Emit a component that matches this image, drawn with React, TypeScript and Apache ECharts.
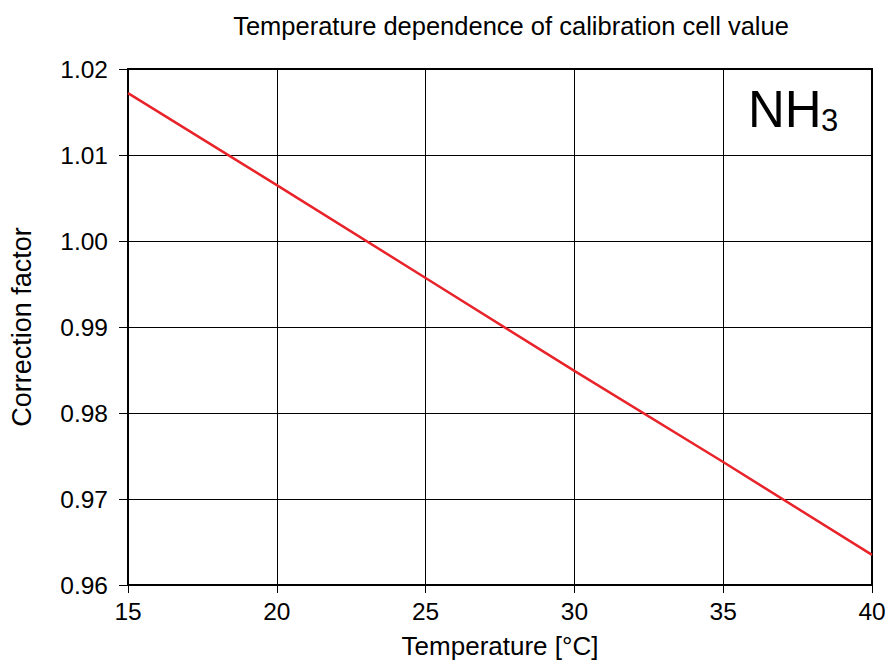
import React, { useEffect, useRef } from "react";
import * as echarts from "echarts";

const temperatures = [15, 20, 25, 30, 35, 40];
const correctionFactor = [1.0172, 1.0065, 0.9957, 0.9849, 0.9743, 0.9635];
const titleText = "Temperature dependence of calibration cell value";
const xName = "Temperature [°C]";
const yName = "Correction factor";

export default function App() {
  const ref = useRef<HTMLDivElement>(null);
  useEffect(() => {
    if (!ref.current) return;
    const chart = echarts.init(ref.current, null, { renderer: "svg" });
    const font = "Liberation Sans, Arial, sans-serif";
    chart.setOption({
      animation: false,
      backgroundColor: "#fff",
      textStyle: { fontFamily: font },
      title: {
        text: titleText,
        left: 506,
        textAlign: "center",
        top: 8,
        textStyle: { fontFamily: font, fontSize: 25.5, fontWeight: "normal", color: "#000" },
      },
      grid: {
        left: 128,
        right: 21,
        top: 69,
        bottom: 79,
        show: true,
        borderColor: "#000",
        borderWidth: 2,
      },
      xAxis: {
        type: "value",
        min: 15,
        max: 40,
        interval: 5,
        name: xName,
        nameLocation: "middle",
        nameGap: 48,
        nameTextStyle: { fontFamily: font, fontSize: 26, color: "#000" },
        axisLine: { show: true, lineStyle: { color: "#000", width: 2 } },
        axisTick: { show: true, length: 8, lineStyle: { color: "#000", width: 1 } },
        axisLabel: { fontFamily: font, fontSize: 24.5, color: "#000", margin: 14 },
        splitLine: { show: true, lineStyle: { color: "#000", width: 1 } },
      },
      yAxis: {
        type: "value",
        min: 0.96,
        max: 1.02,
        interval: 0.01,
        name: yName,
        nameLocation: "middle",
        nameGap: 93,
        nameTextStyle: { fontFamily: font, fontSize: 27, color: "#000" },
        axisLine: { show: true, lineStyle: { color: "#000", width: 2 } },
        axisTick: { show: true, length: 9, lineStyle: { color: "#000", width: 1 } },
        axisLabel: {
          fontFamily: font,
          fontSize: 24.5,
          color: "#000",
          margin: 20,
          formatter: (v: number) => v.toFixed(2),
        },
        splitLine: { show: true, lineStyle: { color: "#000", width: 1 } },
      },
      graphic: [
        {
          type: "text",
          left: 748,
          top: 84,
          style: { text: "NH", fontFamily: font, fontSize: 51, fill: "#000" },
        },
        {
          type: "text",
          left: 821,
          top: 105,
          style: { text: "3", fontFamily: font, fontSize: 31, fill: "#000" },
        },
      ],
      series: [
        {
          type: "line",
          data: temperatures.map((t, i) => [t, correctionFactor[i]]),
          showSymbol: false,
          lineStyle: { color: "#e8242a", width: 2.5 },
          z: 5,
        },
      ],
    });
    return () => chart.dispose();
  }, []);
  return <div ref={ref} style={{ width: 893, height: 664, position: "absolute", left: 0, top: 0 }} />;
}
